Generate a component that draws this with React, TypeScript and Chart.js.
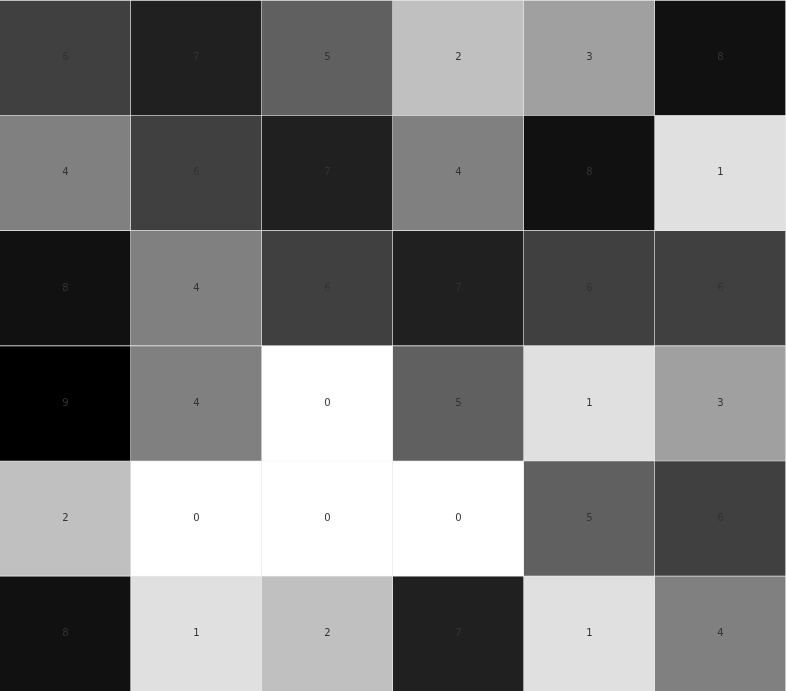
import React, { useEffect, useRef } from "react";
import { Chart, registerables } from "chart.js";

Chart.register(...registerables);

const columns = ["C1", "C2", "C3", "C4", "C5", "C6"];
const rows = ["R1", "R2", "R3", "R4", "R5", "R6"];
const values: number[][] = [
  [6, 7, 5, 2, 3, 8],
  [4, 6, 7, 4, 8, 1],
  [8, 4, 6, 7, 6, 6],
  [9, 4, 0, 5, 1, 3],
  [2, 0, 0, 0, 5, 6],
  [8, 1, 2, 7, 1, 4],
];
const palette = [
  "#ffffff",
  "#e0e0e0",
  "#c0c0c0",
  "#a0a0a0",
  "#808080",
  "#606060",
  "#404040",
  "#202020",
  "#111111",
  "#000000",
];

const labelPlugin = {
  id: "cellLabels",
  afterDatasetsDraw(chart: any) {
    const ctx = chart.ctx;
    ctx.save();
    ctx.font = "10px 'DejaVu Sans'";
    ctx.fillStyle = "#333333";
    ctx.textAlign = "center";
    ctx.textBaseline = "middle";
    chart.data.datasets.forEach((ds: any, di: number) => {
      const meta = chart.getDatasetMeta(di);
      meta.data.forEach((el: any, i: number) => {
        const p = el.getCenterPoint();
        ctx.fillText(String(ds.values[i]), p.x, p.y);
      });
    });
    ctx.restore();
  },
};

export default function App() {
  const ref = useRef<HTMLCanvasElement | null>(null);
  useEffect(() => {
    document.body.style.margin = "0";
    if (!ref.current) return;
    const chart = new Chart(ref.current, {
      type: "bar",
      data: {
        labels: columns,
        datasets: rows.map((r, ri) => ({
          label: r,
          values: values[ri],
          data: values[ri].map(() => [ri, ri + 1]),
          backgroundColor: values[ri].map((v) => palette[v]),
          borderColor: "#e8e8e8",
          borderWidth: { top: 1, right: 1, bottom: 0, left: 0 },
          borderSkipped: false,
          grouped: false,
          barPercentage: 1,
          categoryPercentage: 1,
        })) as any,
      },
      options: {
        animation: false,
        responsive: true,
        maintainAspectRatio: false,
        layout: { padding: 0 },
        plugins: { legend: { display: false }, tooltip: { enabled: false } },
        scales: {
          x: { display: false },
          y: { display: false, min: 0, max: 6, reverse: true },
        },
      },
      plugins: [labelPlugin],
    });
    return () => chart.destroy();
  }, []);
  return (
    <div style={{ width: 786, height: 691, position: "relative" }}>
      <canvas ref={ref} />
    </div>
  );
}
